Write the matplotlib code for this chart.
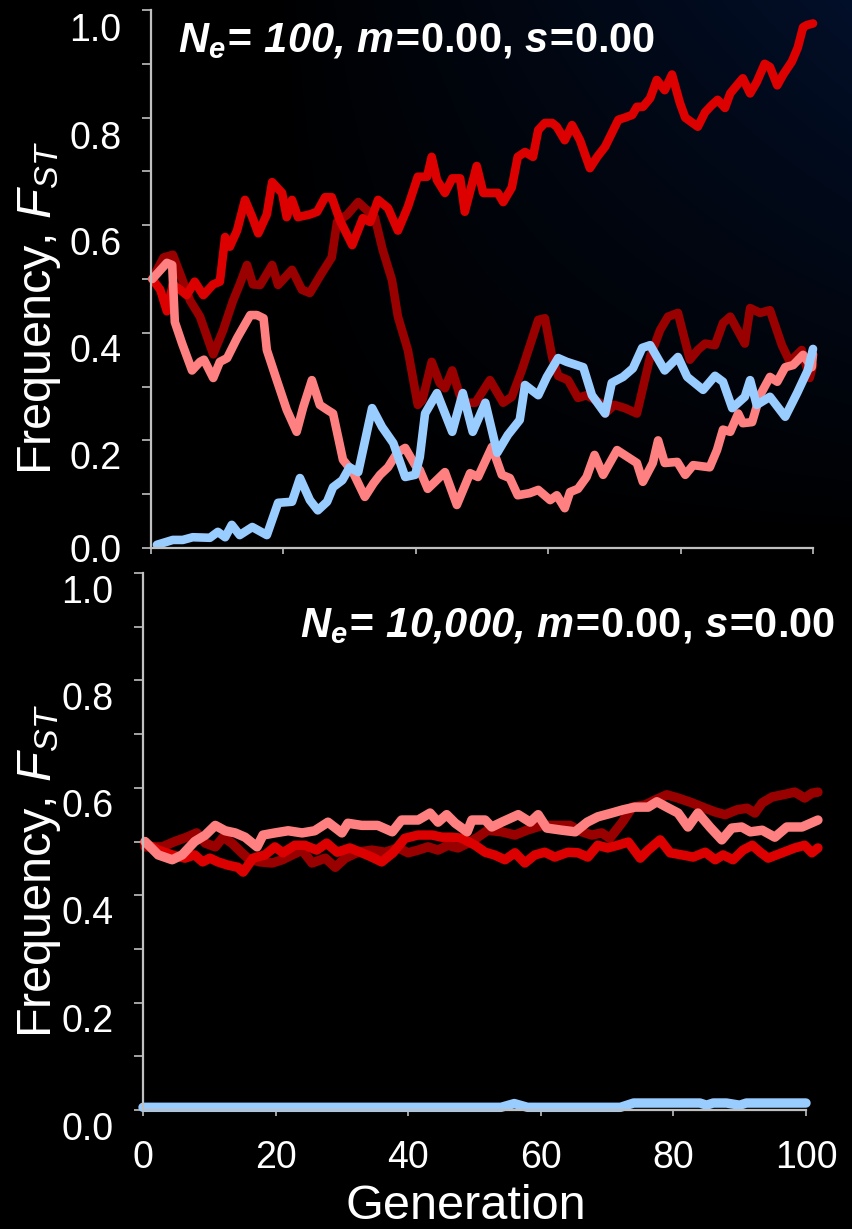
import numpy as np
import matplotlib.pyplot as plt
from matplotlib.ticker import MultipleLocator
from matplotlib.transforms import ScaledTranslation

plt.rcParams['font.family'] = ['Liberation Sans', 'DejaVu Sans']
plt.rcParams['mathtext.fontset'] = 'custom'
plt.rcParams['mathtext.rm'] = 'Liberation Sans'
plt.rcParams['mathtext.it'] = 'Liberation Sans:italic'
plt.rcParams['mathtext.bf'] = 'Liberation Sans:bold'
plt.rcParams['mathtext.bfit'] = 'Liberation Sans:italic:bold'

# ---- top panel: Ne = 100 ----
top_red_gen = [0.2, 1.4, 2.4, 3.3, 4.4, 5.4, 6.6, 7.9, 9.4, 10.4, 11.2, 11.9, 13.0, 14.2, 15.3, 16.2, 17.5, 18.3,
               19.8, 20.5, 21.3, 22.2, 24.0, 25.1, 26.3, 27.3, 28.5, 30.4, 31.1, 32.0, 33.1, 34.3, 35.8, 37.3,
               38.8, 40.3, 41.7, 42.4, 43.2, 44.4, 45.5, 46.7, 47.4, 49.2, 50.2, 52.4, 53.2, 54.5, 55.4, 56.5,
               57.7, 58.5, 59.5, 60.6, 61.3, 62.5, 63.6, 64.8, 66.3, 67.4, 68.6, 70.6, 71.6, 72.7, 73.4, 74.3,
               75.4, 76.4, 77.6, 78.7, 79.9, 80.7, 82.6, 83.7, 84.7, 85.6, 86.7, 87.5, 88.5, 89.4, 90.5, 91.5,
               92.7, 93.5, 94.6, 95.5, 96.8, 97.7, 98.5, 99.1, 100]
top_red_val = [.50, .48, .44, .49, .48, .47, .495, .47, .49, .495, .578, .56, .59, .647, .615, .585, .62, .68,
               .66, .615, .647, .615, .62, .625, .652, .652, .61, .563, .585, .613, .606, .647, .632, .59,
               .634, .69, .69, .727, .684, .66, .687, .687, .625, .71, .66, .66, .643, .67, .727, .736,
               .727, .777, .79, .79, .783, .758, .786, .758, .706, .727, .746, .796, .80, .805, .82, .82,
               .836, .87, .851, .88, .827, .80, .783, .81, .823, .833, .818, .845, .86, .873, .845, .866,
               .90, .894, .86, .88, .904, .93, .968, .972, .975]

top_dark_gen = [0.2, 1.9, 3.3, 4.7, 5.9, 7.4, 9.4, 10.9, 12.4, 13.4, 14.5, 15.4, 16.5, 18.3, 19.2, 21.3, 22.8,
                24.0, 25.8, 27.3, 28.1, 29.6, 31.3, 32.6, 33.8, 35.0, 36.4, 37.3, 38.8, 40.3, 41.0, 42.4, 43.6,
                44.4, 45.5, 47.0, 49.0, 51.2, 53.2, 54.5, 56.0, 58.5, 59.5, 60.6, 61.5, 63.0, 64.5, 65.8, 67.8,
                68.6, 70.0, 71.6, 73.4, 75.4, 76.9, 78.1, 79.6, 81.4, 82.6, 83.7, 85.2, 86.4, 87.5, 89.7, 90.5,
                92.0, 93.5, 95.3, 96.5, 98.3, 99.5, 100]
top_dark_val = [.50, .54, .545, .50, .46, .43, .36, .405, .46, .49, .526, .49, .489, .526, .489, .517, .48,
                .474, .511, .54, .606, .619, .643, .628, .615, .554, .498, .43, .368, .266, .275, .346, .307,
                .297, .33, .27, .27, .312, .27, .281, .33, .424, .427, .355, .32, .312, .279, .284, .27,
                .25, .266, .26, .25, .355, .405, .43, .437, .35, .368, .38, .377, .418, .43, .38, .446,
                .437, .442, .377, .346, .368, .316, .34]

top_pink_gen = [0.2, 2.4, 3.2, 3.6, 4.7, 6.2, 7.4, 8.0, 9.4, 10.4, 11.5, 13.0, 15.0, 16.0, 17.0, 17.5, 19.0,
                20.5, 22.0, 23.0, 24.3, 25.5, 26.6, 27.5, 29.0, 30.5, 32.3, 33.6, 34.6, 35.8, 37.2, 38.4, 39.9,
                40.6, 41.8, 44.4, 46.2, 48.2, 49.4, 51.5, 53.0, 54.2, 55.4, 57.2, 58.5, 60.3, 61.3, 62.5, 63.3,
                64.5, 65.8, 67.0, 68.3, 70.4, 73.4, 74.3, 75.8, 76.6, 77.6, 79.5, 80.7, 81.9, 84.4, 85.5, 86.4,
                87.5, 88.7, 89.4, 90.8, 92.0, 93.5, 94.6, 95.8, 97.0, 98.5, 99.8, 100]
top_pink_val = [.50, .53, .526, .42, .38, .33, .346, .35, .316, .346, .353, .39, .433, .433, .427, .368, .312,
                .257, .216, .262, .312, .266, .257, .25, .164, .141, .095, .12, .136, .15, .177, .186, .154,
                .145, .11, .141, .08, .139, .132, .188, .136, .13, .098, .102, .108, .089, .098, .074, .104,
                .11, .132, .173, .136, .182, .158, .123, .158, .20, .158, .16, .136, .154, .15, .182, .22,
                .216, .25, .232, .234, .284, .318, .309, .336, .34, .359, .336, .36]

top_blue_gen = [0.9, 3.3, 4.8, 6.3, 8.9, 10.1, 11.2, 12.2, 13.4, 15.3, 17.5, 19.2, 21.3, 22.5, 24.0, 25.2, 26.6,
                27.5, 28.9, 30.0, 31.3, 33.4, 34.9, 36.6, 38.4, 39.9, 40.6, 41.4, 43.2, 45.5, 47.1, 48.6, 50.5,
                52.3, 53.9, 55.7, 56.5, 58.5, 59.8, 61.5, 62.8, 65.3, 66.6, 68.6, 69.6, 71.3, 72.8, 74.2, 75.4,
                77.6, 79.6, 81.0, 83.4, 85.2, 86.4, 87.8, 89.7, 90.5, 91.5, 93.5, 95.8, 97.6, 99.2, 100]
top_blue_val = [.006, .015, .015, .02, .019, .03, .02, .043, .024, .039, .024, .084, .086, .13, .089, .07, .086,
                .113, .126, .15, .141, .26, .225, .195, .132, .136, .169, .25, .288, .216, .288, .216, .27,
                .177, .21, .238, .303, .284, .318, .353, .346, .336, .284, .25, .307, .318, .334, .372, .377,
                .33, .355, .318, .294, .32, .309, .26, .281, .312, .266, .281, .244, .288, .33, .37]

# ---- bottom panel: Ne = 10,000 ----
bot_red_gen = [0.3, 2.3, 4.4, 6.3, 7.8, 9.0, 10.1, 11.3, 12.8, 14.3, 15.1, 16.6, 18.4, 19.9, 21.1, 22.9, 24.4,
               26.2, 27.7, 29.3, 31.2, 33.0, 34.5, 36.0, 37.7, 39.5, 41.5, 43.6, 45.1, 46.6, 48.1, 50.1, 51.6,
               53.0, 54.6, 56.1, 57.6, 59.1, 60.6, 62.1, 64.1, 65.6, 67.1, 68.6, 70.1, 71.6, 73.2, 75.0, 76.2,
               78.0, 79.5, 81.3, 83.0, 84.8, 86.3, 87.5, 89.0, 90.5, 91.9, 93.1, 94.3, 96.4, 98.3, 99.8, 100.9,
               101.8]
bot_red_val = [.497, .484, .475, .469, .475, .462, .469, .462, .456, .452, .443, .469, .475, .49, .479, .493, .493,
               .484, .497, .48, .488, .479, .471, .462, .479, .506, .512, .512, .508, .508, .506, .493, .48,
               .475, .466, .479, .46, .475, .48, .471, .48, .479, .471, .493, .488, .493, .499, .469, .484,
               .503, .479, .475, .471, .48, .466, .475, .466, .484, .493, .48, .469, .479, .488, .493, .479,
               .488]

bot_dark_gen = [0.3, 2.9, 4.8, 6.6, 8.1, 9.4, 10.9, 12.1, 13.4, 14.9, 15.8, 17.6, 19.5, 21.0, 22.5, 24.0, 25.5,
                27.5, 29.0, 30.5, 32.4, 34.5, 36.5, 38.5, 40.0, 41.5, 43.0, 44.5, 46.0, 47.5, 49.0, 50.5, 52.0,
                54.1, 56.1, 57.9, 60.2, 62.1, 64.4, 66.2, 67.7, 69.2, 70.4, 72.3, 73.8, 75.7, 77.2, 79.0, 80.7,
                82.8, 84.8, 86.3, 87.8, 89.6, 91.1, 92.3, 93.4, 94.9, 96.5, 98.3, 99.8, 100.9, 101.8]
bot_dark_val = [.49, .49, .50, .508, .516, .497, .49, .508, .497, .479, .469, .462, .46, .466, .475, .484, .46,
                .469, .452, .469, .48, .484, .48, .488, .479, .484, .49, .484, .493, .488, .497, .508, .521,
                .518, .512, .521, .53, .53, .53, .518, .512, .516, .506, .536, .564, .568, .577, .587, .581,
                .572, .562, .555, .55, .559, .562, .553, .572, .583, .587, .592, .581, .59, .592]

bot_pink_gen = [0.3, 2.3, 4.4, 5.9, 7.8, 9.4, 10.9, 12.4, 13.9, 15.4, 17.2, 18.1, 19.9, 21.9, 24.0, 25.9, 27.9,
                30.0, 30.9, 33.0, 35.4, 37.6, 39.0, 41.5, 43.3, 44.5, 45.8, 47.1, 48.9, 49.6, 51.6, 52.6, 54.1,
                56.6, 58.4, 59.6, 60.9, 63.2, 65.2, 67.0, 68.6, 70.7, 72.4, 74.2, 76.2, 77.5, 79.0, 80.7, 82.2,
                83.7, 85.5, 87.3, 88.8, 90.3, 91.6, 93.4, 95.3, 97.1, 99.4, 101.8]
bot_pink_val = [.50, .475, .466, .475, .50, .512, .53, .52, .516, .508, .49, .512, .516, .52, .516, .52, .536,
                .516, .534, .53, .53, .518, .54, .54, .553, .536, .55, .534, .518, .54, .54, .527, .536,
                .55, .536, .55, .525, .521, .518, .536, .546, .553, .559, .564, .564, .574, .564, .553, .527,
                .553, .527, .503, .525, .527, .518, .521, .508, .527, .527, .54]

bot_blue_gen = [0, 54, 56, 58, 72, 74, 84, 85, 86, 88, 90, 91, 92, 100]
bot_blue_val = [.005, .005, .012, .005, .005, .013, .013, .009, .013, .013, .009, .013, .013, .013]

top_title = r"$\mathbfit{N_e\!=\!\ 100{,}\ m\!=\!}\mathbf{0.00{,}\ }\mathbfit{s\!=\!}\mathbf{0.00}$"
bot_title = r"$\mathbfit{N_e\!=\!\ 10{,}000{,}\ m\!=\!}\mathbf{0.00{,}\ }\mathbfit{s\!=\!}\mathbf{0.00}$"
ylab = r"Frequency, $F_{ST}$"

W, H = 853, 1229
fig = plt.figure(figsize=(W / 100, H / 100), dpi=100)
fig.patch.set_facecolor('black')

# dark photo-like background: black with navy toward upper right
bg = fig.add_axes([0, 0, 1, 1], zorder=-5)
xx, yy = np.meshgrid(np.linspace(0, 1, 200), np.linspace(1, 0, 300))
w = np.clip((xx - 0.3) / 0.7, 0, 1) * np.clip((yy - 0.55) / 0.45, 0, 1)
img = np.dstack([0.01 * w, 0.06 * w, 0.16 * w])
bg.imshow(img, aspect='auto', extent=[0, 1, 0, 1], interpolation='bilinear')
bg.axis('off')

red, dark, pink, blue = '#DD0000', '#990000', '#FF8080', '#99CCFF'
axcol = '#C0C0C0'


def style(ax, show_xlabels, label_drop):
    ax.set_facecolor('none')
    ax.set_xlim(0, 100)
    ax.set_ylim(0, 1)
    for s in ['top', 'right']:
        ax.spines[s].set_visible(False)
    for s in ['left', 'bottom']:
        ax.spines[s].set_color(axcol)
        ax.spines[s].set_linewidth(1.6)
    ax.set_xticks([0, 20, 40, 60, 80, 100])
    ax.set_yticks([0, 0.2, 0.4, 0.6, 0.8, 1.0])
    ax.yaxis.set_minor_locator(MultipleLocator(0.1))
    ax.set_yticklabels(['0.0', '0.2', '0.4', '0.6', '0.8', '1.0'])
    ax.tick_params(axis='y', which='both', direction='out', length=6.5, width=1.2,
                   color=axcol, labelcolor='white', labelsize=27, pad=15)
    ax.tick_params(axis='x', direction='out', length=4.5, width=1.2, color=axcol,
                   labelcolor='white', labelsize=27, pad=17, labelbottom=show_xlabels)
    # the y labels sit a little below their ticks, as in the slide
    for tick, d in zip(ax.yaxis.get_major_ticks(), label_drop):
        lab = tick.label1
        lab.set_transform(lab.get_transform() + ScaledTranslation(0, -d / 100, fig.dpi_scale_trans))


ax1 = fig.add_axes([151 / W, 1 - 548 / H, 662 / W, 538 / H])
style(ax1, False, [0, 15, 15, 16, 17, 17])
ax2 = fig.add_axes([143 / W, 1 - 1110 / H, 663 / W, 537 / H])
style(ax2, True, [16, 15, 15, 15, 16, 16])

for ax, lw, series in [(ax1, 6.2, [(top_dark_gen, top_dark_val, dark), (top_red_gen, top_red_val, red),
                                   (top_pink_gen, top_pink_val, pink), (top_blue_gen, top_blue_val, blue)]),
                       (ax2, 6.8, [(bot_dark_gen, bot_dark_val, dark), (bot_red_gen, bot_red_val, red),
                                   (bot_pink_gen, bot_pink_val, pink), (bot_blue_gen, bot_blue_val, blue)])]:
    for g, v, c in series:
        ax.plot(g, v, color=c, lw=lw, solid_joinstyle='round', solid_capstyle='round', clip_on=False)

fig.text(178 / W, 1 - 52 / H, top_title, color='white', fontsize=30, ha='left', va='baseline')
fig.text(835 / W, 1 - 637 / H, bot_title, color='white', fontsize=30, ha='right', va='baseline')

fig.text(40 / W, 1 - 308 / H, ylab, color='white', fontsize=35, rotation=90, ha='center', va='center')
fig.text(40 / W, 1 - 871 / H, ylab, color='white', fontsize=35, rotation=90, ha='center', va='center')
fig.text(466 / W, 1 - 1219 / H, 'Generation', color='white', fontsize=35, ha='center', va='baseline')

fig.savefig('out.png', dpi=100, facecolor=fig.get_facecolor())
